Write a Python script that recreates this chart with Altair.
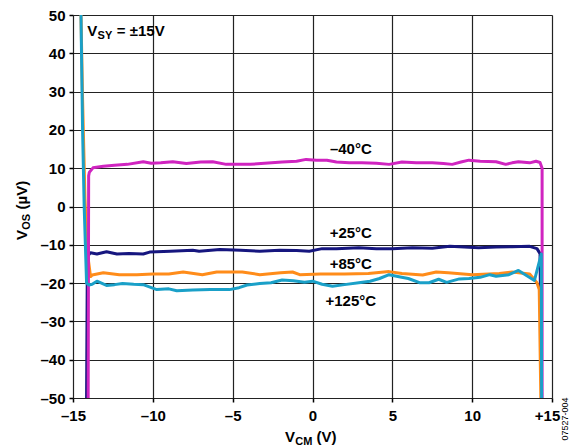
import altair as alt
import pandas as pd

# ---------------- data ----------------
x_ticks = [-15, -10, -5, 0, 5, 10, 15]
x_tick_labels = ["–15", "–10", "–5", "0", "5", "10", "+15"]
y_ticks = [50, 40, 30, 20, 10, 0, -10, -20, -30, -40, -50]
y_tick_labels = ["50", "40", "30", "20", "10", "0", "–10", "–20", "–30", "–40", "–50"]

# +25°C (navy)
t25_x = [-14.15, -14.1, -13.9, -13.5, -12.9, -12.25, -11.5, -10.6, -10.2, -8.9, -7.5, -7.1, -5.8,
         -4.5, -3.3, -2.06, -1.0, -0.2, 0.6, 1.5, 2.9, 4.0, 5.0, 6.25, 7.5, 8.6, 9.5, 10.4, 11.5,
         12.5, 13.6, 14.06, 14.25, 14.35]
t25_y = [-50, -13, -12.1, -12.4, -11.8, -12.4, -12.3, -12.4, -11.9, -11.7, -11.4, -11.7, -11.2,
         -11.4, -11.7, -11.4, -11.5, -11.7, -11.0, -11.0, -10.8, -11.0, -11.0, -10.8, -10.9, -10.4,
         -10.6, -10.8, -10.6, -10.5, -10.4, -11.0, -12.3, -50]

# +85°C (orange)
t85_x = [-14.5, -14.4, -14.25, -14.1, -13.9, -13.8, -13.1, -12.1, -11.0, -10.0, -9.0, -8.1, -6.9,
         -6.0, -4.4, -3.3, -2.0, -1.25, -0.8, 0.5, 2.0, 3.5, 4.8, 5.6, 6.9, 7.75, 8.5, 10.0, 11.7,
         12.5, 13.6, 14.06, 14.2, 14.3]
t85_y = [50, 28, 2, -12, -18.3, -17.9, -17.3, -17.8, -17.8, -17.6, -17.6, -17.1, -17.8,
         -17.1, -17.1, -17.8, -17.3, -17.1, -17.8, -17.6, -17.6, -17.5, -17.0, -17.5, -17.9, -17.1,
         -17.3, -17.8, -17.5, -17.1, -17.6, -19.9, -21.7, -50]

# -40°C (magenta)
tm40_x = [-14.05, -14.02, -13.98, -13.75, -13.1, -12.4, -11.6, -10.6, -10.1, -9.5, -8.75, -7.9,
          -7.0, -6.25, -5.4, -4.5, -3.9, -3.0, -1.9, -1.0, -0.4, 0.25, 0.9, 1.5, 2.3, 3.1, 4.0,
          4.8, 5.6, 6.5, 7.5, 8.2, 8.75, 9.3, 9.8, 10.5, 11.5, 12.1, 12.5, 12.9, 13.6, 14.0,
          14.25, 14.38, 14.38]
tm40_y = [-50, 8.0, 8.9, 10.1, 10.5, 10.8, 11.0, 11.7, 11.3, 11.4, 11.7, 11.2,
          11.6, 11.7, 11.0, 11.0, 11.0, 11.3, 11.6, 11.8, 12.3, 12.1, 12.1, 11.6, 11.4, 11.4, 11.3,
          11.0, 11.6, 11.4, 11.4, 11.2, 11.0, 11.6, 12.1, 11.8, 11.7, 11.0, 11.4, 11.7, 11.4, 11.8,
          11.5, 10.0, -50]

# +125°C (cyan)
t125_x = [-14.5, -14.45, -14.4, -14.3, -14.15, -14.0, -13.8, -13.5, -12.9, -12.4, -11.9, -11.2,
          -10.6, -9.75, -9.0, -8.5, -7.5, -6.4, -5.2, -4.6, -4.1, -3.3, -2.6, -1.9, -1.2, -0.5, 0.0,
          0.6, 1.25, 2.0, 2.9, 3.6, 4.2, 4.8, 5.5, 6.0, 6.7, 7.3, 7.9, 8.4, 9.2, 9.8, 10.5, 11.1,
          11.5, 12.3, 12.9, 13.4, 13.9, 14.33, 14.35]
t125_y = [50, 35, 20, 0, -20, -20.5, -20.3, -19.5, -20.6, -20.4, -20.1, -20.3,
          -20.4, -21.7, -21.5, -22.0, -21.8, -21.7, -21.7, -21.2, -20.5, -20.1, -19.9, -19.2, -19.4,
          -19.8, -19.5, -20.3, -20.8, -20.4, -19.9, -19.5, -18.8, -17.8, -18.4, -18.8, -19.9, -19.9,
          -19.0, -19.8, -18.9, -18.8, -18.5, -17.8, -18.2, -17.8, -16.7, -18.0, -19.3, -12.4, -50]

series_names = ["+25°C", "+85°C", "–40°C", "+125°C"]     # drawing order
series_x = [t25_x, t85_x, tm40_x, t125_x]
series_y = [t25_y, t85_y, tm40_y, t125_y]
series_colors = ["#16167F", "#FF8C1A", "#D024C0", "#1AA0C8"]

label_text = ["–40°C", "+25°C", "+85°C", "+125°C"]
label_x = [2.4, 2.4, 2.4, 2.4]
label_y = [14.9, -7.0, -15.1, -24.8]

# ---------------- chart ----------------
FONT = "Liberation Sans"


def label_expr(values, labels):
    expr = "''"
    for v, l in zip(values, labels):
        expr = f"datum.value == {v} ? '{l}' : ({expr})"
    return expr


xscale = alt.Scale(domain=[-15, 15], nice=False, zero=False)
yscale = alt.Scale(domain=[-50, 50], nice=False, zero=False)

x_enc = alt.X("vcm:Q", scale=xscale, title=None,
              axis=alt.Axis(values=x_ticks, labelExpr=label_expr(x_ticks, x_tick_labels),
                            grid=True, gridColor="#222222", gridWidth=1.2, gridOpacity=1,
                            domain=False, ticks=True, tickSize=4, tickColor="black", tickWidth=1.5,
                            labelPadding=6, labelFont=FONT, labelFontSize=15,
                            labelFontWeight="bold", labelColor="black", labelOverlap=False,
                            labelFlush=False,
                            labelOffset={"condition": {"test": "datum.value == 15", "value": -5},
                                         "value": 0}))
y_enc = alt.Y("vos:Q", scale=yscale, title=None,
              axis=alt.Axis(values=y_ticks, labelExpr=label_expr(y_ticks, y_tick_labels),
                            grid=True, gridColor="#222222", gridWidth=1.2, gridOpacity=1,
                            domain=False, ticks=True, tickSize=4, tickColor="black", tickWidth=1.5,
                            labelPadding=4, labelFont=FONT, labelFontSize=15,
                            labelFontWeight="bold", labelColor="black", labelOverlap=False,
                            labelFlush=False))

layers = []
for name, xs, ys, col in zip(series_names, series_x, series_y, series_colors):
    df = pd.DataFrame({"vcm": xs, "vos": ys, "idx": list(range(len(xs)))})
    layers.append(
        alt.Chart(df).mark_line(color=col, strokeWidth=3, strokeJoin="round", clip=True)
        .encode(x=x_enc, y=y_enc, order="idx:Q")
    )

lab_df = pd.DataFrame({"t": label_text, "vcm": label_x, "vos": label_y})
layers.append(
    alt.Chart(lab_df).mark_text(font=FONT, fontSize=15, fontWeight="bold", color="black",
                                align="center", baseline="middle")
    .encode(x=x_enc, y=y_enc, text="t:N")
)


def piece(text, size, x, y, dx=0, dy=0, angle=0, weight="bold", align="left",
          baseline="alphabetic", data_coords=False):
    df = pd.DataFrame({"t": [text], "vcm": [x], "vos": [y]})
    kw = dict(font=FONT, fontSize=size, fontWeight=weight, color="black", align=align,
              baseline=baseline, dx=dx, dy=dy)
    if angle:
        kw["angle"] = angle
    m = alt.Chart(df).mark_text(**kw)
    if data_coords:
        return m.encode(x=x_enc, y=y_enc, text="t:N")
    return m.encode(x=alt.value(x), y=alt.value(y), text="t:N")


# V_SY = ±15V annotation (data coordinates)
layers += [
    piece("V", 15, -14.1, 44.4, data_coords=True),
    piece("SY", 11, -14.1, 44.4, dx=10.2, dy=3, data_coords=True),
    piece("= ±15V", 15, -14.1, 44.4, dx=29.5, data_coords=True),
]

# x axis title V_CM (V)
layers += [
    piece("V", 15, 212, 427),
    piece("CM", 11, 212, 427, dx=10.2, dy=3),
    piece("(V)", 15, 212, 427, dx=31.5),
]

# y axis title V_OS (µV)
layers += [
    piece("V", 15, -46, 225, angle=270),
    piece("OS", 11, -46, 225, dx=10.2, dy=3, angle=270),
    piece("(µV)", 15, -46, 225, dx=30.5, angle=270),
]

# figure code
layers.append(piece("07527-004", 9, 492, 404, angle=270, weight="normal", align="center",
                    baseline="middle"))

chart = alt.layer(*layers).properties(
    width=479, height=383,
    padding={"left": 65, "top": 7, "right": 17, "bottom": 50},
    autosize=alt.AutoSizeParams(type="none"),
).configure_view(stroke="black", strokeWidth=2).configure(background="white")

chart.save("out.html", embed_options={"renderer": "svg", "actions": False})
